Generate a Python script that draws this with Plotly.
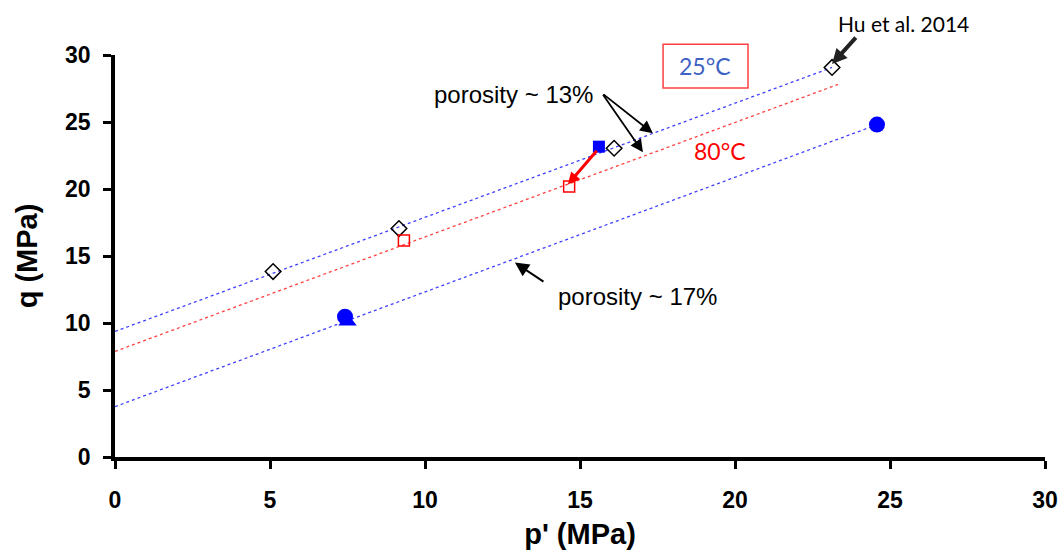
import plotly.graph_objects as go

# Hu et al. 2014 data (open diamonds)
hu_p = [5.10, 9.16, 16.10, 23.13]
hu_q = [13.84, 17.05, 23.04, 29.07]

# 80°C (open red squares)
red_p = [9.32, 14.65]
red_q = [16.15, 20.18]

# 25°C filled blue square
bsq_p = [15.61]
bsq_q = [23.16]

# porosity ~17% filled blue circles
circ_p = [7.42, 24.58]
circ_q = [10.47, 24.81]

# filled blue triangle
tri_p = [7.50]
tri_q = [10.12]

# trend lines (end points)
upper_p = [0, 23.13]
upper_q = [9.37, 29.07]
mid_p = [0, 23.32]
mid_q = [7.88, 27.80]
lower_p = [0, 24.35]
lower_q = [3.76, 24.60]

x_ticks = [0, 5, 10, 15, 20, 25, 30]
y_ticks = [0, 5, 10, 15, 20, 25, 30]

fig = go.Figure()

line_style = dict(width=1.3, dash="dot")
fig.add_trace(go.Scatter(x=upper_p, y=upper_q, mode="lines",
                         line=dict(color="rgba(0,0,255,0.75)", **line_style)))
fig.add_trace(go.Scatter(x=mid_p, y=mid_q, mode="lines",
                         line=dict(color="rgba(255,0,0,0.75)", **line_style)))
fig.add_trace(go.Scatter(x=lower_p, y=lower_q, mode="lines",
                         line=dict(color="rgba(0,0,255,0.75)", **line_style)))

fig.add_trace(go.Scatter(x=hu_p, y=hu_q, mode="markers",
                         marker=dict(symbol="diamond-open", size=12, color="black",
                                     line=dict(width=1.5, color="black"))))
fig.add_trace(go.Scatter(x=red_p, y=red_q, mode="markers",
                         marker=dict(symbol="square-open", size=11, color="red",
                                     line=dict(width=1.5, color="red"))))
fig.add_trace(go.Scatter(x=tri_p, y=tri_q, mode="markers",
                         marker=dict(symbol="triangle-up", size=16, color="#0000FF")))
fig.add_trace(go.Scatter(x=circ_p, y=circ_q, mode="markers",
                         marker=dict(symbol="circle", size=16, color="#0000FF")))
fig.add_trace(go.Scatter(x=bsq_p, y=bsq_q, mode="markers",
                         marker=dict(symbol="square", size=12, color="#0000FF")))

annotations = []

def arrow(x, y, ax, ay, color="black", width=1.8, head=2, size=1.0):
    annotations.append(dict(x=x, y=y, ax=ax, ay=ay, xref="x", yref="y",
                            axref="x", ayref="y", text="", showarrow=True,
                            arrowhead=head, arrowsize=size, arrowwidth=width,
                            arrowcolor=color, standoff=0, startstandoff=0))

arrow(17.35, 24.16, 15.71, 27.15, size=1.4)
arrow(17.03, 22.74, 15.71, 27.15, size=1.4)
arrow(12.90, 14.51, 13.87, 13.01, width=2, size=1.4)
arrow(23.13, 29.32, 23.94, 31.41, color="#222222", width=4, size=0.75)
arrow(14.61, 20.34, 15.58, 22.96, color="red", width=3, size=0.8)

arial = "Liberation Sans, Arial, sans-serif"
calibri = "Lato, Carlito, Calibri, sans-serif"

annotations += [
    dict(x=12.87, y=27.08, xref="x", yref="y", text="porosity ~ 13%", showarrow=False,
         font=dict(family=arial, size=24, color="black")),
    dict(x=16.84, y=11.97, xref="x", yref="y", text="porosity ~ 17%", showarrow=False,
         font=dict(family=arial, size=24, color="black")),
    dict(x=19.03, y=29.17, xref="x", yref="y", text="25°C", showarrow=False,
         font=dict(family=calibri, size=23, color="#4062C4")),
    dict(x=19.52, y=22.81, xref="x", yref="y", text="80°C", showarrow=False,
         font=dict(family=calibri, size=23, color="red")),
    dict(x=25.45, y=1.0796, xref="x", yref="paper", xanchor="center", yanchor="middle",
         text="Hu et al. 2014", showarrow=False,
         font=dict(family=calibri, size=21, color="black")),
]

fig.add_shape(type="rect", x0=17.68, x1=20.42, y0=0.918, y1=1.027, xref="x", yref="paper",
              line=dict(color="#FF4040", width=1.5))

axis_common = dict(showline=True, linecolor="black", linewidth=3.5, ticks="outside",
                   ticklen=8, tickwidth=2.5, tickcolor="black", showgrid=False,
                   zeroline=False, ticklabeloverflow="allow", automargin=False,
                   tickfont=dict(family=arial, size=23, color="black", weight="bold"))

# full-window figure; the page's default body margin is removed below
fig.update_layout(
    width=1064, height=554,
    margin=dict(l=115, r=19, t=55, b=97),
    paper_bgcolor="white", plot_bgcolor="white",
    showlegend=False,
    hovermode=False,
    annotations=annotations,
    xaxis=dict(range=[0, 30], tickvals=x_ticks, ticktext=[str(v) for v in x_ticks],
               title=dict(text="p' (MPa)", font=dict(family=arial, size=29, color="black",
                                                     weight="bold"), standoff=12),
               ticklabelstandoff=12, **axis_common),
    yaxis=dict(range=[0, 30], tickvals=y_ticks, ticktext=[str(v) for v in y_ticks],
               title=dict(text="q (MPa)", font=dict(family=arial, size=29, color="black",
                                                    weight="bold"), standoff=20),
               ticklabelstandoff=8, **axis_common),
)

fig.write_html("out.html", config={"displayModeBar": False},
               post_script="document.body.style.margin='0';document.body.style.overflow='hidden';")
